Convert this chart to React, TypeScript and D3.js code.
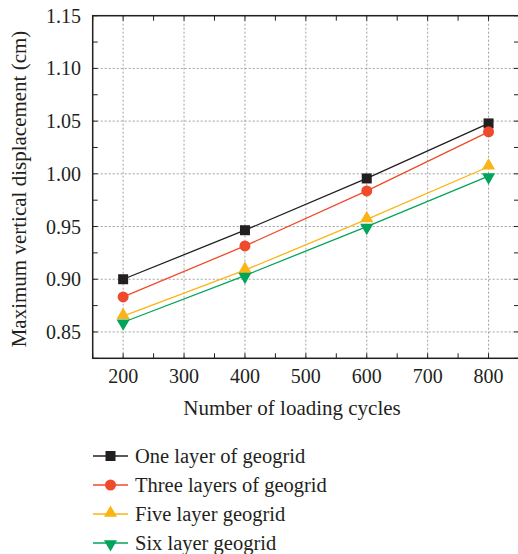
import React from "react";
import * as d3 from "d3";

const cycles = [200, 400, 600, 800];
const oneLayer = [0.9, 0.9465, 0.9956, 1.0478];
const threeLayers = [0.8832, 0.9316, 0.9838, 1.0398];
const fiveLayer = [0.865, 0.9086, 0.9567, 1.0067];
const sixLayer = [0.8592, 0.9035, 0.95, 0.9978];
const seriesNames = ["One layer of geogrid", "Three layers of geogrid", "Five layer geogrid", "Six layer geogrid"];
const seriesColors = ["#231f20", "#ef4a2c", "#fbb416", "#00a45a"];
const seriesMarkers = ["square", "circle", "triangle", "triangleDown"];
const xTicks = [200, 300, 400, 500, 600, 700, 800];
const yTicks = [0.85, 0.9, 0.95, 1.0, 1.05, 1.1, 1.15];

const FONT = "'Liberation Serif', 'Times New Roman', Times, serif";

function Marker({ type, x, y, color }: { type: string; x: number; y: number; color: string }) {
  if (type === "square") return <rect x={x - 5} y={y - 5} width={10} height={10} fill={color} />;
  if (type === "circle") return <circle cx={x} cy={y} r={5.5} fill={color} />;
  const sym = d3.symbol().type(d3.symbolTriangle).size(75)();
  const rot = type === "triangleDown" ? 180 : 0;
  return <path d={sym || ""} transform={`translate(${x},${y + (type === "triangleDown" ? 1 : -1)}) rotate(${rot})`} fill={color} />;
}

export default function App() {
  const left = 92.7, right = 519, top = 15.7, bottom = 358.3;
  const x = d3.scaleLinear().domain([150, 850]).range([left, right]);
  const y = d3.scaleLinear().domain([0.825, 1.15]).range([bottom, top]);
  const data = [oneLayer, threeLayers, fiveLayer, sixLayer];
  const line = d3.line<number>().x((_, i) => x(cycles[i])).y((d) => y(d));
  const xMinor = d3.range(150, 851, 50);
  const yMinor = d3.range(0, 14).map((i) => 0.825 + i * 0.025);
  const ts = { fontFamily: FONT };

  return (
    <svg width={518} height={554} style={{ position: "absolute", left: 0, top: 0 }}>
      <style>{`text { font-family: ${FONT}; }`}</style>
      <rect width={518} height={554} fill="#fff" />
      {/* grid */}
      {xTicks.map((t) => (
        <line key={"gx" + t} x1={x(t)} x2={x(t)} y1={top} y2={bottom} stroke="#8a8a8a" strokeWidth={0.8} strokeDasharray="2,2" />
      ))}
      {yTicks.map((t) => (
        <line key={"gy" + t} x1={left} x2={right} y1={y(t)} y2={y(t)} stroke="#8a8a8a" strokeWidth={0.8} strokeDasharray="2,2" />
      ))}
      {/* ticks */}
      {xMinor.map((t, i) => (
        <g key={"tx" + i}>
          <line x1={x(t)} x2={x(t)} y1={bottom} y2={bottom - 5} stroke="#231f20" strokeWidth={1} />
          <line x1={x(t)} x2={x(t)} y1={top} y2={top + 5} stroke="#231f20" strokeWidth={1} />
        </g>
      ))}
      {yMinor.map((t, i) => (
        <g key={"ty" + i}>
          <line x1={left} x2={left + 5} y1={y(t)} y2={y(t)} stroke="#231f20" strokeWidth={1} />
          <line x1={right} x2={right - 5} y1={y(t)} y2={y(t)} stroke="#231f20" strokeWidth={1} />
        </g>
      ))}
      <rect x={left} y={top} width={right - left} height={bottom - top} fill="none" stroke="#231f20" strokeWidth={1.5} />
      {/* series */}
      {data.map((s, k) => (
        <g key={"s" + k}>
          <path d={line(s) || ""} fill="none" stroke={seriesColors[k]} strokeWidth={1.3} />
          {s.map((v, i) => (
            <Marker key={i} type={seriesMarkers[k]} x={x(cycles[i])} y={y(v)} color={seriesColors[k]} />
          ))}
        </g>
      ))}
      {/* tick labels */}
      {xTicks.map((t) => (
        <text key={"lx" + t} x={x(t)} y={383} textAnchor="middle" style={ts} fontSize={20} fill="#231f20">{t}</text>
      ))}
      {yTicks.map((t) => (
        <text key={"ly" + t} x={81} y={y(t) + 7} textAnchor="end" style={ts} fontSize={20} fill="#231f20">{t.toFixed(2)}</text>
      ))}
      <text x={292} y={415} textAnchor="middle" style={ts} fontSize={21} fill="#231f20">Number of loading cycles</text>
      <text transform={`translate(26,${(top + bottom) / 2 + 2}) rotate(-90)`} textAnchor="middle" style={ts} fontSize={21} fill="#231f20">
        Maximum vertical displacement (cm)
      </text>
      {/* legend */}
      {seriesNames.map((n, k) => {
        const ly = 456 + k * 29;
        return (
          <g key={"lg" + k}>
            <line x1={93} x2={128} y1={ly} y2={ly} stroke={seriesColors[k]} strokeWidth={1.3} />
            <Marker type={seriesMarkers[k]} x={110.5} y={ly} color={seriesColors[k]} />
            <text x={135} y={ly + 7} style={ts} fontSize={20.5} fill="#231f20">{n}</text>
          </g>
        );
      })}
    </svg>
  );
}
